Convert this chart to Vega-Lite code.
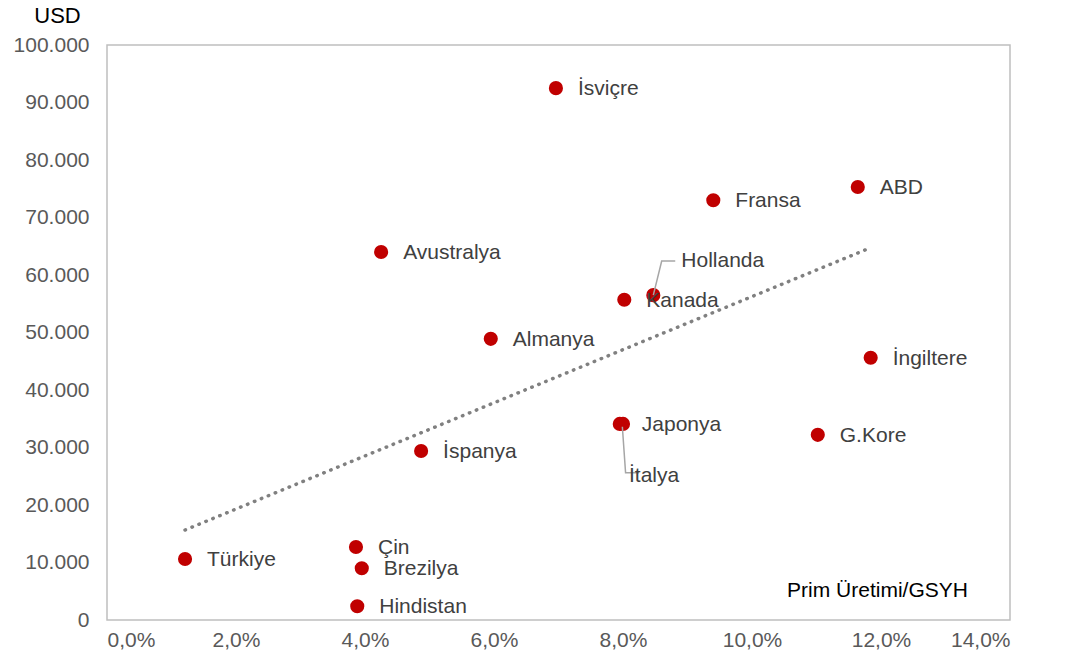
{
  "$schema": "https://vega.github.io/schema/vega-lite/v6.json",
  "width": 903,
  "height": 575,
  "autosize": "none",
  "padding": {"left": 107, "top": 45, "right": 58, "bottom": 41},
  "background": "white",
  "config": {
    "view": {"stroke": "#BFBFBF", "strokeWidth": 1.5},
    "font": "Liberation Sans"
  },
  "datasets": {
    "pts": [
      {"ulke": "İsviçre", "prim": 6.96, "usd": 92500},
      {"ulke": "ABD", "prim": 11.64, "usd": 75300},
      {"ulke": "Fransa", "prim": 9.40, "usd": 73000},
      {"ulke": "Avustralya", "prim": 4.25, "usd": 64000},
      {"ulke": "Hollanda", "prim": 8.47, "usd": 56500},
      {"ulke": "Kanada", "prim": 8.02, "usd": 55700},
      {"ulke": "Almanya", "prim": 5.95, "usd": 48900},
      {"ulke": "İngiltere", "prim": 11.84, "usd": 45600},
      {"ulke": "Japonya", "prim": 7.95, "usd": 34100},
      {"ulke": "İtalya", "prim": 8.00, "usd": 34100},
      {"ulke": "G.Kore", "prim": 11.02, "usd": 32200},
      {"ulke": "İspanya", "prim": 4.87, "usd": 29400},
      {"ulke": "Türkiye", "prim": 1.21, "usd": 10600},
      {"ulke": "Çin", "prim": 3.86, "usd": 12700},
      {"ulke": "Brezilya", "prim": 3.95, "usd": 9000},
      {"ulke": "Hindistan", "prim": 3.88, "usd": 2400}
    ],
    "trend": [
      {"prim": 1.21, "usd": 15650},
      {"prim": 11.83, "usd": 64700}
    ],
    "leaders": [
      {"grp": "Hollanda", "o": 1, "prim": 8.47, "usd": 56500},
      {"grp": "Hollanda", "o": 2, "prim": 8.60, "usd": 62430},
      {"grp": "Hollanda", "o": 3, "prim": 8.81, "usd": 62430},
      {"grp": "İtalya", "o": 1, "prim": 7.99, "usd": 33600},
      {"grp": "İtalya", "o": 2, "prim": 8.04, "usd": 25600},
      {"grp": "İtalya", "o": 3, "prim": 8.25, "usd": 25600}
    ]
  },
  "encoding": {
    "x": {
      "field": "prim", "type": "quantitative",
      "scale": {"domain": [0, 14], "nice": false, "zero": false},
      "axis": {
        "values": [0, 2, 4, 6, 8, 10, 12, 14],
        "labelExpr": "replace(format(datum.value, '.1f'), '.', ',') + '%'",
        "domain": false, "ticks": false, "grid": false,
        "labelFontSize": 21, "labelColor": "#595959", "labelPadding": 9,
        "labelFont": "Liberation Sans",
        "title": "Prim Üretimi/GSYH",
        "titleFontSize": 21, "titleFontWeight": "normal", "titleColor": "#000000",
        "titleFont": "Liberation Sans",
        "titleX": 770, "titleY": -30, "titleAlign": "center", "titleBaseline": "middle"
      }
    },
    "y": {
      "field": "usd", "type": "quantitative",
      "scale": {"domain": [0, 100000], "nice": false},
      "axis": {
        "values": [0, 10000, 20000, 30000, 40000, 50000, 60000, 70000, 80000, 90000, 100000],
        "labelExpr": "replace(format(datum.value, ','), ',', '.')",
        "domain": false, "ticks": false, "grid": false,
        "labelFontSize": 21, "labelColor": "#595959", "labelPadding": 18,
        "labelFont": "Liberation Sans",
        "title": "USD",
        "titleFontSize": 22, "titleFontWeight": "normal", "titleColor": "#000000",
        "titleFont": "Liberation Sans",
        "titleAngle": 0, "titleX": -50, "titleY": -30, "titleAlign": "center", "titleBaseline": "middle"
      }
    }
  },
  "layer": [
    {
      "data": {"name": "trend"},
      "mark": {"type": "line", "color": "#808080", "strokeWidth": 3.5, "strokeDash": [0.5, 7], "strokeCap": "round"},
      "encoding": {}
    },
    {
      "data": {"name": "pts"},
      "mark": {"type": "circle", "size": 200, "color": "#C00000", "opacity": 1}
    },
    {
      "data": {"name": "leaders"},
      "mark": {"type": "line", "color": "#A6A6A6", "strokeWidth": 1.5},
      "encoding": {
        "detail": {"field": "grp"},
        "order": {"field": "o", "type": "quantitative"}
      }
    },
    {
      "data": {"name": "pts"},
      "transform": [{"filter": "datum.ulke !== 'Hollanda' && datum.ulke !== 'İtalya'"}],
      "mark": {"type": "text", "align": "left", "baseline": "middle", "dx": 22, "dy": 1, "fontSize": 21, "color": "#404040", "font": "Liberation Sans"},
      "encoding": {"text": {"field": "ulke"}}
    },
    {
      "data": {"name": "pts"},
      "transform": [{"filter": "datum.ulke === 'Hollanda'"}],
      "mark": {"type": "text", "align": "left", "baseline": "middle", "dx": 28, "dy": -34, "fontSize": 21, "color": "#404040", "font": "Liberation Sans"},
      "encoding": {"text": {"field": "ulke"}}
    },
    {
      "data": {"name": "pts"},
      "transform": [{"filter": "datum.ulke === 'İtalya'"}],
      "mark": {"type": "text", "align": "left", "baseline": "middle", "dx": 6, "dy": 52, "fontSize": 21, "color": "#404040", "font": "Liberation Sans"},
      "encoding": {"text": {"field": "ulke"}}
    }
  ]
}
